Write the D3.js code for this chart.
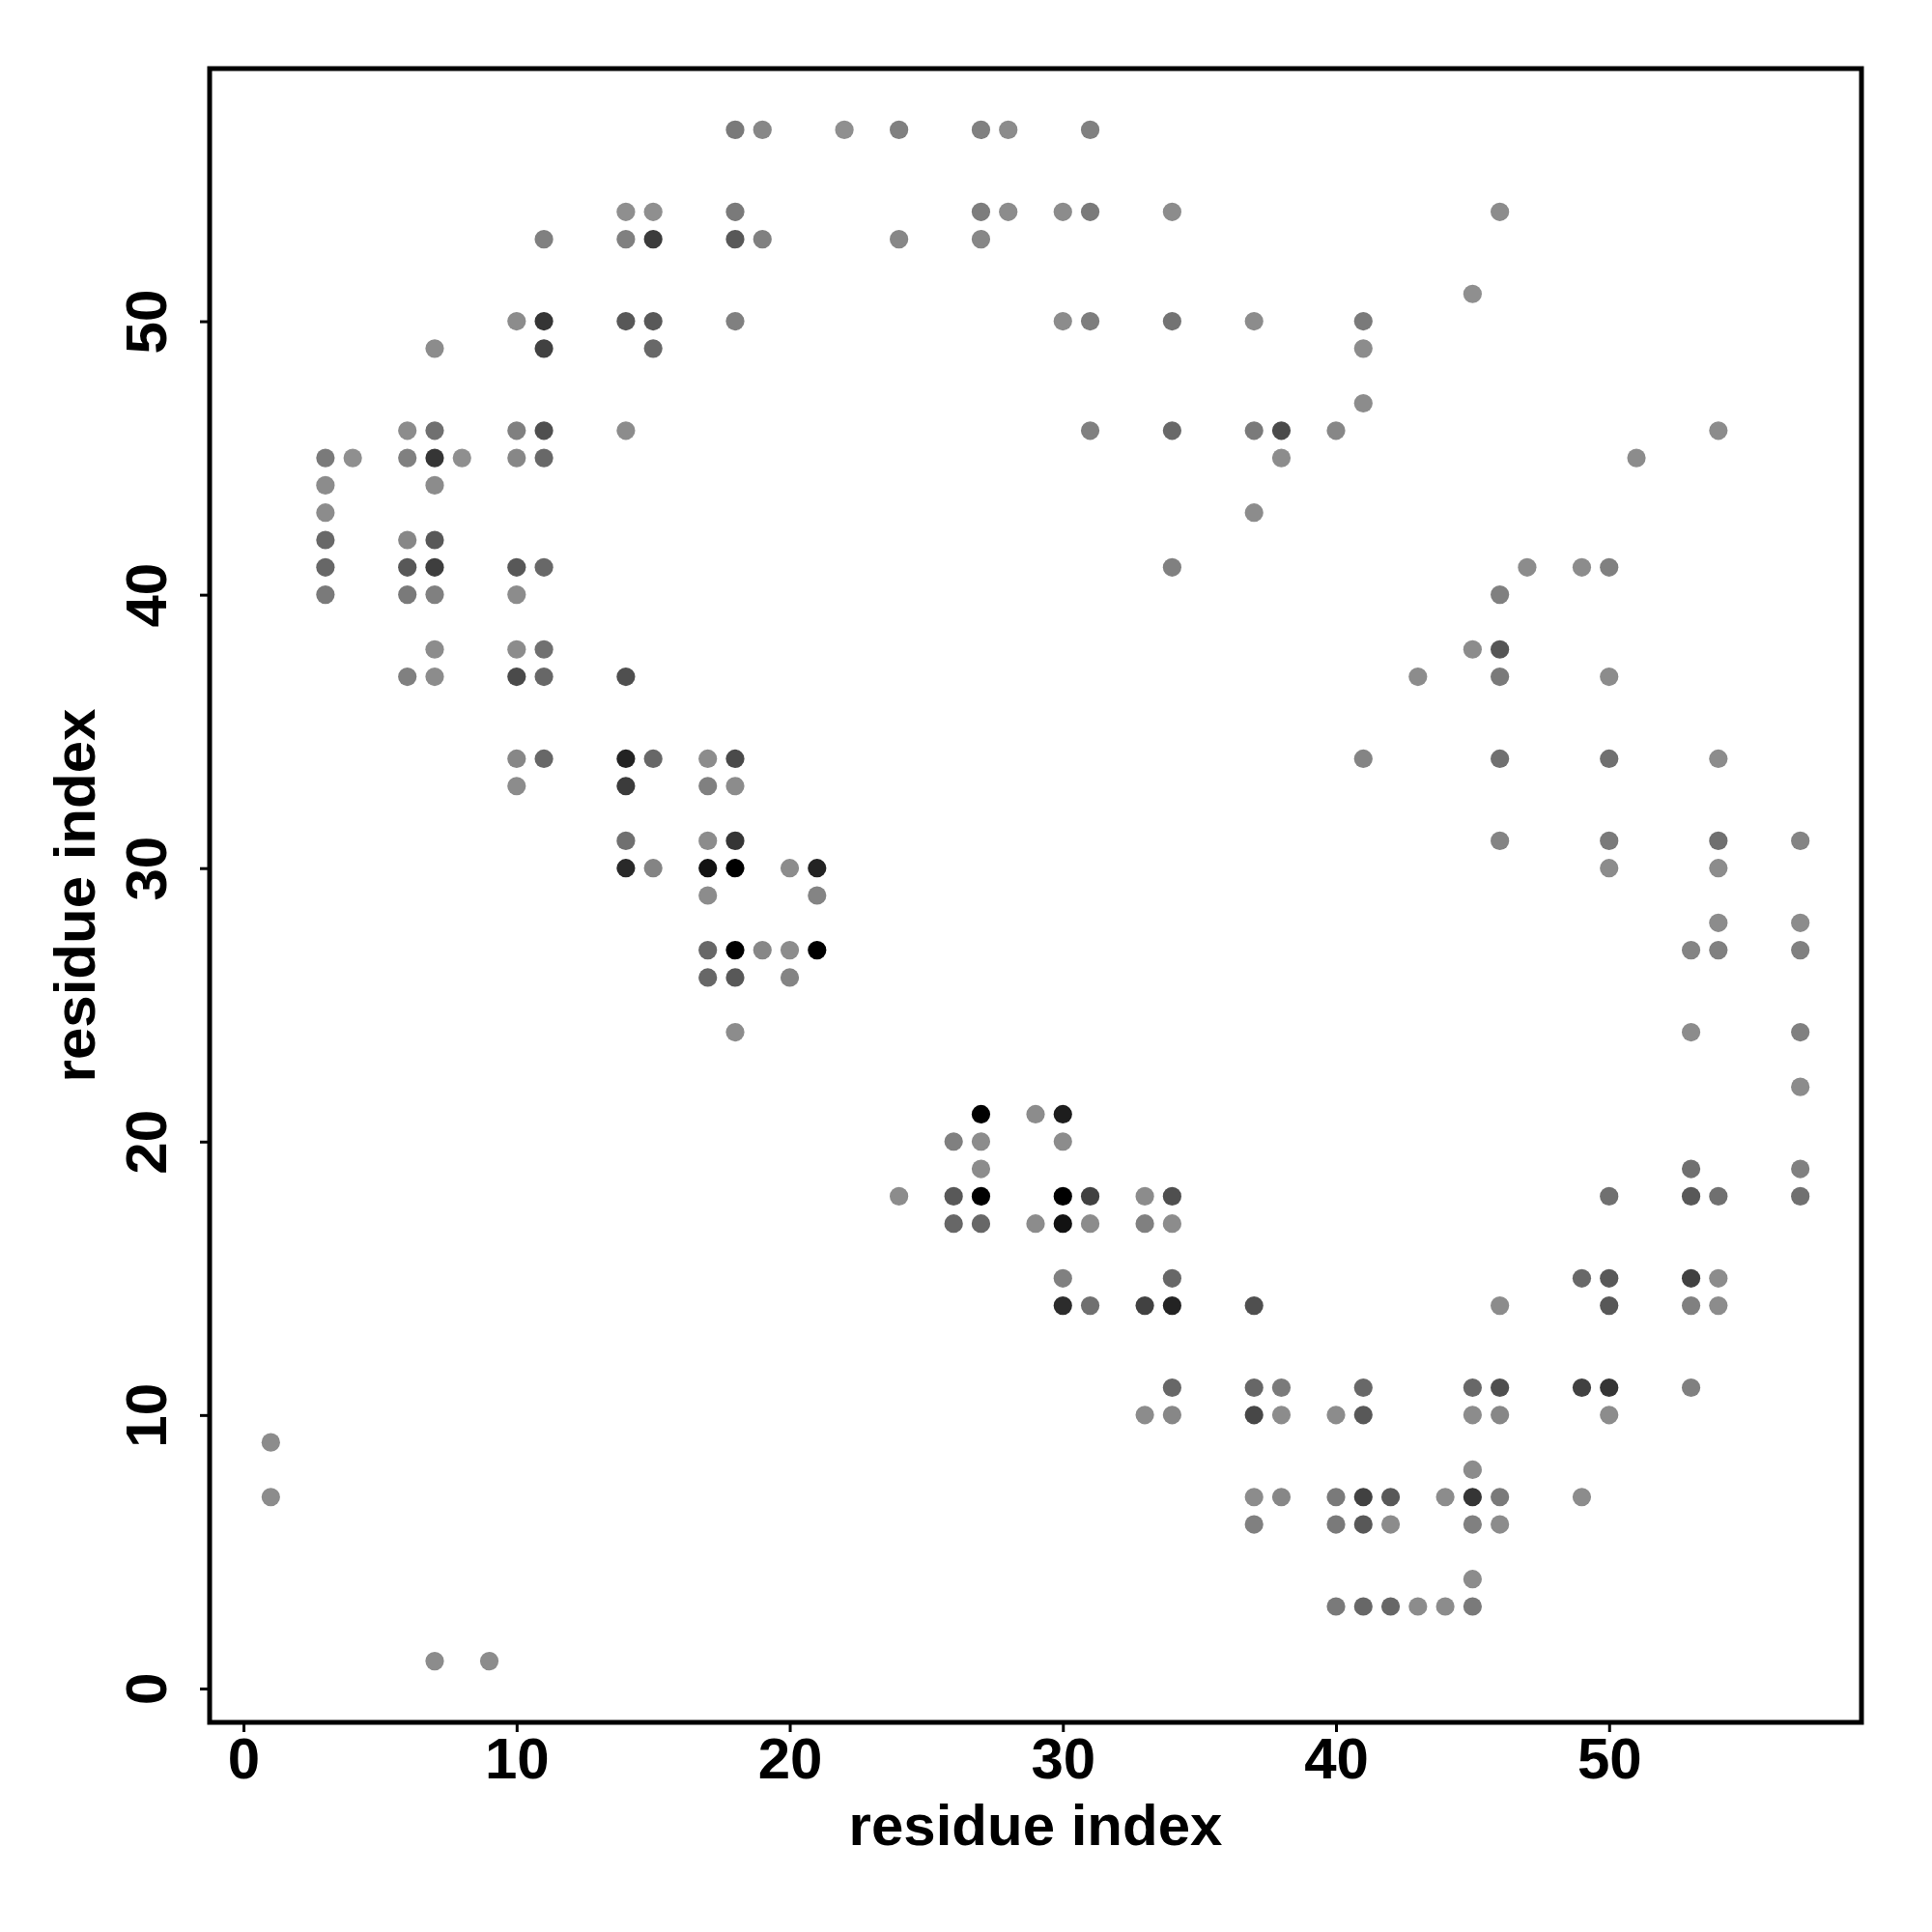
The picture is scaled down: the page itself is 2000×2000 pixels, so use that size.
<!DOCTYPE html>
<html>
<head>
<meta charset="utf-8">
<script src="https://cdn.jsdelivr.net/npm/d3@7"></script>
<style>
  html, body { margin: 0; padding: 0; background: #ffffff; }
  svg { display: block; }
</style>
</head>
<body>
<script>
// ---- data: contacts (x residue, y residue, strength 0..1 -> grey level) ----
const contactX = [
  18,19,22,24,27,28,31,
  14,15,18,27,28,30,31,34,46,
  11,14,15,18,19,24,27,
  45,
  10,11,14,15,18,30,31,34,37,41,
  7,11,15,41,
  41,
  6,7,10,11,14,31,34,37,38,40,54,
  3,4,6,7,8,10,11,38,51,
  3,7,
  3,37,
  3,6,7,
  3,6,7,10,11,34,47,49,50,
  3,6,7,10,46,
  7,10,11,45,46,
  6,7,10,11,14,43,46,50,
  10,11,14,15,17,18,41,46,50,54,
  10,14,17,18,
  14,17,18,46,50,54,57,
  14,15,17,18,20,21,50,54,
  17,21,
  54,57,
  17,18,19,20,21,53,54,57,
  17,18,20,
  18,53,57,
  57,
  27,29,30,
  26,27,30,
  27,53,57,
  24,26,27,30,31,33,34,50,53,54,57,
  26,27,29,30,31,33,34,
  30,34,49,50,53,54,
  30,31,33,34,37,46,50,53,54,
  34,37,38,41,45,46,49,50,53,
  33,34,37,38,40,41,45,46,50,
  1,
  45,
  1,37,38,40,41,42,44,45,46,49,
  37,40,41,42,45,46,
  45,
  40,41,42,43,44,45,
  7,9
];
const contactY = [
  57,57,57,57,57,57,57,
  54,54,54,54,54,54,54,54,54,
  53,53,53,53,53,53,53,
  51,
  50,50,50,50,50,50,50,50,50,50,
  49,49,49,49,
  47,
  46,46,46,46,46,46,46,46,46,46,46,
  45,45,45,45,45,45,45,45,45,
  44,44,
  43,43,
  42,42,42,
  41,41,41,41,41,41,41,41,41,
  40,40,40,40,40,
  38,38,38,38,38,
  37,37,37,37,37,37,37,37,
  34,34,34,34,34,34,34,34,34,34,
  33,33,33,33,
  31,31,31,31,31,31,31,
  30,30,30,30,30,30,30,30,
  29,29,
  28,28,
  27,27,27,27,27,27,27,27,
  26,26,26,
  24,24,24,
  22,
  21,21,21,
  20,20,20,
  19,19,19,
  18,18,18,18,18,18,18,18,18,18,18,
  17,17,17,17,17,17,17,
  15,15,15,15,15,15,
  14,14,14,14,14,14,14,14,14,
  11,11,11,11,11,11,11,11,11,
  10,10,10,10,10,10,10,10,10,
  9,
  8,
  7,7,7,7,7,7,7,7,7,7,
  6,6,6,6,6,6,
  4,
  3,3,3,3,3,3,
  1,1
];
const contactStrength = [
  0.17,0.08,0.03,0.13,0.13,0.05,0.13,
  0.03,0.03,0.17,0.15,0.05,0.05,0.17,0.05,0.05,
  0.13,0.13,0.60,0.40,0.13,0.08,0.08,
  0.03,
  0.05,0.64,0.40,0.40,0.13,0.05,0.15,0.22,0.05,0.17,
  0.05,0.56,0.29,0.05,
  0.05,
  0.05,0.24,0.13,0.46,0.05,0.13,0.29,0.17,0.50,0.08,0.05,
  0.17,0.03,0.13,0.64,0.03,0.08,0.29,0.05,0.05,
  0.05,0.05,
  0.05,0.05,
  0.29,0.08,0.40,
  0.30,0.40,0.58,0.40,0.29,0.13,0.05,0.05,0.13,
  0.17,0.17,0.13,0.05,0.13,
  0.05,0.05,0.24,0.05,0.42,
  0.13,0.05,0.50,0.30,0.46,0.05,0.17,0.05,
  0.08,0.30,0.76,0.30,0.05,0.50,0.10,0.24,0.24,0.05,
  0.05,0.60,0.13,0.05,
  0.24,0.05,0.64,0.10,0.17,0.24,0.10,
  0.72,0.10,0.88,1.00,0.05,0.76,0.05,0.05,
  0.05,0.10,
  0.05,0.05,
  0.30,1.00,0.08,0.05,1.00,0.10,0.13,0.13,
  0.30,0.40,0.10,
  0.05,0.05,0.13,
  0.05,
  1.00,0.05,0.80,
  0.13,0.05,0.05,
  0.05,0.24,0.13,
  0.05,0.40,1.00,1.00,0.56,0.05,0.46,0.24,0.40,0.24,0.24,
  0.30,0.30,0.05,0.88,0.05,0.13,0.05,
  0.13,0.30,0.29,0.40,0.56,0.05,
  0.70,0.24,0.56,0.76,0.46,0.05,0.40,0.13,0.05,
  0.30,0.30,0.17,0.29,0.29,0.46,0.56,0.64,0.13,
  0.05,0.08,0.52,0.05,0.05,0.40,0.05,0.08,0.05,
  0.05,
  0.05,
  0.05,0.05,0.08,0.17,0.56,0.40,0.05,0.64,0.17,0.05,
  0.13,0.17,0.40,0.05,0.13,0.05,
  0.05,
  0.17,0.30,0.30,0.05,0.05,0.17,
  0.05,0.05
];
const xTickValues = [0, 10, 20, 30, 40, 50];
const yTickValues = [0, 10, 20, 30, 40, 50];
const xAxisTitle = "residue index";
const yAxisTitle = "residue index";

(function () {
  // ---- layout ----
  const W = 2000, H = 2000;
  const pLeft = 217, pRight = 1927, pTop = 71, pBottom = 1783;
  const fontFamily = "'Liberation Sans', Arial, Helvetica, sans-serif";

  const svg = d3.select("body").append("svg")
    .attr("width", W).attr("height", H)
    .attr("viewBox", `0 0 ${W} ${H}`);

  svg.append("rect").attr("width", W).attr("height", H).attr("fill", "#ffffff");

  // R-style 4% extension of data range
  const ex = d3.extent(contactX), ey = d3.extent(contactY);
  const padX = (ex[1] - ex[0]) * 0.04, padY = (ey[1] - ey[0]) * 0.04;
  const x = d3.scaleLinear().domain([ex[0] - padX, ex[1] + padX]).range([pLeft, pRight]);
  const y = d3.scaleLinear().domain([ey[0] - padY, ey[1] + padY]).range([pBottom, pTop]);

  const grey = d3.scaleLinear().domain([0, 1]).range(["#939393", "#000000"]).interpolate(d3.interpolateRgb);

  const points = contactX.map((cx, i) => ({ x: cx, y: contactY[i], s: contactStrength[i] }));

  svg.append("g").selectAll("circle")
    .data(points)
    .join("circle")
    .attr("cx", d => x(d.x))
    .attr("cy", d => y(d.y))
    .attr("r", 9.6)
    .attr("fill", d => grey(d.s));

  // box
  svg.append("rect")
    .attr("x", pLeft).attr("y", pTop)
    .attr("width", pRight - pLeft).attr("height", pBottom - pTop)
    .attr("fill", "none").attr("stroke", "#000").attr("stroke-width", 5);

  // x axis
  const gx = svg.append("g")
    .attr("transform", `translate(0,${pBottom})`)
    .call(d3.axisBottom(x).tickValues(xTickValues).tickSize(10).tickPadding(5).tickFormat(d3.format("d")));
  gx.select(".domain").remove();
  gx.selectAll(".tick line").attr("stroke", "#000").attr("stroke-width", 3);
  gx.selectAll(".tick text")
    .attr("fill", "#000")
    .style("font-family", fontFamily)
    .style("font-weight", "bold")
    .style("font-size", "60px");

  // y axis
  const gy = svg.append("g")
    .attr("transform", `translate(${pLeft},0)`)
    .call(d3.axisLeft(y).tickValues(yTickValues).tickSize(10).tickPadding(5).tickFormat(d3.format("d")));
  gy.select(".domain").remove();
  gy.selectAll(".tick line").attr("stroke", "#000").attr("stroke-width", 3);
  gy.selectAll(".tick text")
    .attr("x", null)
    .attr("dy", null)
    .attr("fill", "#000")
    .attr("text-anchor", "middle")
    .attr("transform", "translate(-45,0) rotate(-90)")
    .style("font-family", fontFamily)
    .style("font-weight", "bold")
    .style("font-size", "60px");

  // axis titles
  svg.append("text")
    .attr("x", (pLeft + pRight) / 2)
    .attr("y", 1910)
    .attr("text-anchor", "middle")
    .style("font-family", fontFamily)
    .style("font-weight", "bold")
    .style("font-size", "60px")
    .text(xAxisTitle);

  svg.append("text")
    .attr("transform", `translate(98,${(pTop + pBottom) / 2}) rotate(-90)`)
    .attr("text-anchor", "middle")
    .style("font-family", fontFamily)
    .style("font-weight", "bold")
    .style("font-size", "60px")
    .text(yAxisTitle);
})();
</script>
</body>
</html>
